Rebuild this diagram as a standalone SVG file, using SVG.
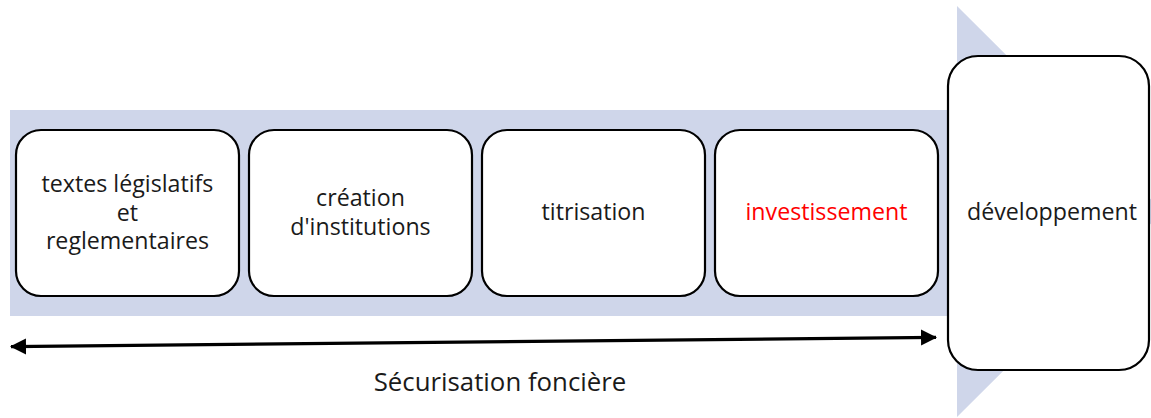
<svg xmlns="http://www.w3.org/2000/svg" width="1151" height="418" viewBox="0 0 1151 418">
  <style>
    .band { fill: #CFD6EA; }
    .box { fill: #FFFFFF; stroke: #000000; stroke-width: 2.2; }
    .lbl { font-family: "Open Sans", "Noto Sans", sans-serif; font-size: 23.2px; fill: #1A1A1A; text-anchor: middle; }
    .red { fill: #FF0000; }
    .caption { font-size: 25.8px; }
    .conn { stroke: #000000; stroke-width: 3.2; fill: none; }
  </style>
  <defs>
    <marker id="head" markerUnits="userSpaceOnUse" markerWidth="16" markerHeight="18" refX="15" refY="8" orient="auto-start-reverse" viewBox="0 0 16 16">
      <path d="M0,0 L16,8 L0,16 Z" fill="#000000"/>
    </marker>
  </defs>

  <!-- background process arrow -->
  <g id="process-arrow">
    <path class="band" d="M10,110 H957 V6 L1163,211.5 L957,417 V316 H10 Z"/>
  </g>

  <g id="node-textes">
    <rect class="box" x="16" y="130" width="223" height="166" rx="25" ry="25"/>
    <text class="lbl" x="127.5" y="192">textes législatifs<tspan x="127.5" dy="28.5">et</tspan><tspan x="127.5" dy="28.5">reglementaires</tspan></text>
  </g>

  <g id="node-creation">
    <rect class="box" x="249" y="130" width="223" height="166" rx="25" ry="25"/>
    <text class="lbl" x="360.5" y="206">création<tspan x="360.5" dy="28.5">d'institutions</tspan></text>
  </g>

  <g id="node-titrisation">
    <rect class="box" x="482" y="130" width="223" height="166" rx="25" ry="25"/>
    <text class="lbl" x="593.5" y="220">titrisation</text>
  </g>

  <g id="node-investissement">
    <rect class="box" x="715" y="130" width="223" height="166" rx="25" ry="25"/>
    <text class="lbl red" x="826.5" y="220">investissement</text>
  </g>

  <g id="node-developpement">
    <rect class="box" x="948" y="56" width="201" height="314" rx="30" ry="30"/>
    <text class="lbl" x="1052" y="220">développement</text>
  </g>

  <g id="connectors">
    <line class="conn" x1="11" y1="346.6" x2="936" y2="337.4" marker-start="url(#head)" marker-end="url(#head)"/>
    <text class="lbl caption" x="500" y="391">Sécurisation foncière</text>
  </g>
</svg>
